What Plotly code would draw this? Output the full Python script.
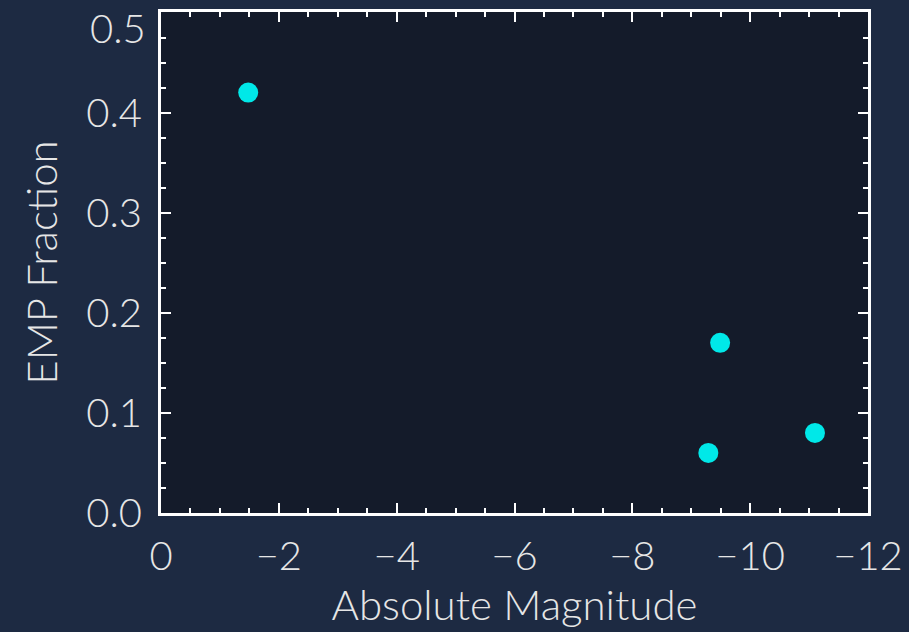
import plotly.graph_objects as go

# Absolute magnitude vs. fraction of extremely metal-poor stars
abs_mag = [-1.48, -9.49, -9.29, -11.10]
emp_fraction = [0.42, 0.17, 0.06, 0.08]

x_ticks = [0, -2, -4, -6, -8, -10, -12]
y_ticks = [0.0, 0.1, 0.2, 0.3, 0.4, 0.5]
y_labels = ["0.0", "0.1", "0.2", "0.3", "0.4", "0.5"]

text_color = "#e6e6e6"
font_family = "Lato, 'Open Sans', sans-serif"
tick_font = dict(family=font_family, size=40, color=text_color, weight=300)

fig = go.Figure(
    go.Scatter(
        x=abs_mag,
        y=emp_fraction,
        mode="markers",
        marker=dict(size=20, color="#00e8e8", line=dict(width=0)),
        showlegend=False,
    )
)

axis_common = dict(
    showgrid=False,
    zeroline=False,
    showline=True,
    linecolor="#ffffff",
    linewidth=3,
    mirror="ticks",
    ticks="inside",
    tickcolor="#ffffff",
    tickwidth=2,
    ticklen=10,
    automargin=False,
    ticklabeloverflow="allow",
    tickfont=tick_font,
    title_font=dict(family=font_family, size=42, color=text_color, weight=300),
)

fig.update_xaxes(
    **axis_common,
    range=[0, -12],
    tickvals=x_ticks,
    minor=dict(ticks="inside", ticklen=5, tickwidth=2, tickcolor="#ffffff", dtick=0.5, tick0=0),
    title_text="Absolute Magnitude",
    title_standoff=6,
    ticklabelstandoff=6,
)

# the top label sits just below its tick so it stays inside the figure
fig.update_yaxes(
    **axis_common,
    range=[0, 0.5005],
    tickvals=y_ticks,
    ticktext=y_labels[:-1] + [""],
    minor=dict(ticks="inside", ticklen=5, tickwidth=2, tickcolor="#ffffff", dtick=0.025, tick0=0),
    title_text="EMP Fraction",
    title_standoff=16,
    ticklabelstandoff=8,
)
fig.add_annotation(
    text=y_labels[-1],
    x=0, xref="paper", xanchor="right", xshift=-13,
    y=y_ticks[-1], yref="y", yanchor="middle", yshift=-15,
    showarrow=False,
    font=tick_font,
)

fig.update_layout(
    width=909,
    height=632,
    margin=dict(l=161, r=41, t=12, b=119),
    paper_bgcolor="#1d2a42",
    plot_bgcolor="#141b2a",
)

fig.write_html("out.html")
